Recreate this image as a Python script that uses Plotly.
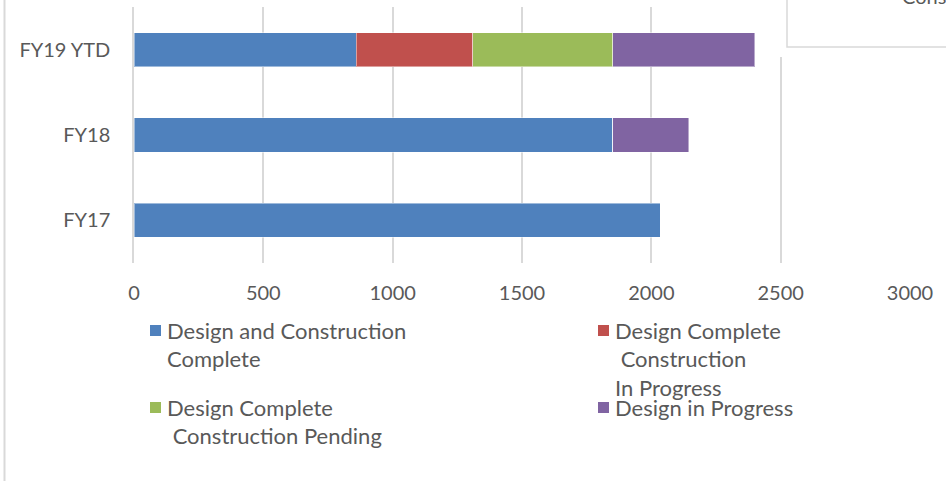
import plotly.graph_objects as go

# ---- data ----
categories = ["FY17", "FY18", "FY19 YTD"]
series_names = [
    "Design and Construction Complete",
    "Design Complete Construction In Progress",
    "Design Complete Construction Pending",
    "Design in Progress",
]
design_construction_complete = [2035, 1850, 860]
design_complete_construction_in_progress = [0, 0, 450]
design_complete_construction_pending = [0, 0, 540]
design_in_progress = [0, 295, 550]
x_ticks = [0, 500, 1000, 1500, 2000, 2500, 3000]
legend_lines = [
    ["Design and Construction", "Complete"],
    ["Design Complete", " Construction", "In Progress"],
    ["Design Complete", " Construction Pending"],
    ["Design in Progress"],
]
partial_box_text = "Construction"

colors = ["#4F81BD", "#C0504D", "#9BBB59", "#8064A2"]
values = [
    design_construction_complete,
    design_complete_construction_in_progress,
    design_complete_construction_pending,
    design_in_progress,
]

FONT = "Lato, 'Open Sans', sans-serif"
TXT = "#595959"

fig = go.Figure()
for name, vals, col in zip(series_names, values, colors):
    fig.add_trace(go.Bar(
        y=categories, x=vals, name=name, orientation="h",
        marker=dict(color=col, line=dict(color="rgba(255,255,255,0.45)", width=1)),
        showlegend=False,
    ))

W, H = 946, 481
L, R, T, B = 134, 36, 7, 218
pw, ph = W - L - R, H - T - B

def px(x):
    return (x - L) / pw

def py(y):
    return (H - B - y) / ph

shapes = []
annotations = []

# custom legend (two columns)
legend_pos = [(150, 330), (598, 330), (150, 407), (598, 407)]
line_h = 28.7
for i, (sx, sy) in enumerate(legend_pos):
    shapes.append(dict(type="rect", xref="paper", yref="paper",
                       x0=px(sx), x1=px(sx + 11), y0=py(sy - 5), y1=py(sy + 6),
                       fillcolor=colors[i], line=dict(width=0), layer="above"))
    for j, ln in enumerate(legend_lines[i]):
        txt = ("&nbsp;" + ln[1:]) if ln.startswith(" ") else ln
        annotations.append(dict(text=txt, xref="paper", yref="paper",
                                x=px(sx + 15), y=py(sy + j * line_h),
                                xanchor="left", yanchor="middle", showarrow=False,
                                font=dict(family=FONT, size=22, color=TXT)))

# white cover of gridlines under the partial box
shapes.append(dict(type="rect", xref="paper", yref="paper",
                   x0=px(765), x1=px(960), y0=py(57), y1=py(-5),
                   fillcolor="white", line=dict(width=0), layer="above"))
# partial legend box of neighbouring chart
shapes.append(dict(type="rect", xref="paper", yref="paper",
                   x0=px(787), x1=px(960), y0=py(47), y1=py(-5),
                   fillcolor="white", line=dict(color="#d9d9d9", width=1.5), layer="above"))
annotations.append(dict(text=partial_box_text, xref="paper", yref="paper",
                        x=px(900), y=py(-4), xanchor="left", yanchor="middle",
                        showarrow=False, font=dict(family=FONT, size=20, color=TXT)))
# left border line
shapes.append(dict(type="line", xref="paper", yref="paper",
                   x0=px(4.5), x1=px(4.5), y0=py(490), y1=py(-5),
                   line=dict(color="#d9d9d9", width=2)))

fig.update_layout(
    barmode="stack",
    bargap=0.6,
    width=W, height=H,
    margin=dict(l=L, r=R, t=T, b=B, autoexpand=False),
    paper_bgcolor="white", plot_bgcolor="white",
    font=dict(family=FONT, size=20, color=TXT),
    shapes=shapes,
    annotations=annotations,
    xaxis=dict(range=[0, 3000], tickvals=x_ticks, showgrid=True,
               gridcolor="#d9d9d9", gridwidth=1.5, zeroline=False,
               ticks="", ticklabelstandoff=16,
               tickfont=dict(family=FONT, size=20, color=TXT), fixedrange=True),
    yaxis=dict(categoryorder="array", categoryarray=categories,
               showline=True, linecolor="#d9d9d9", linewidth=1.5,
               ticks="", ticklabelstandoff=18, showgrid=False,
               tickfont=dict(family=FONT, size=20, color=TXT), fixedrange=True),
)

fig.write_html("out.html", config={"displayModeBar": False},
               post_script="document.body.style.margin='0';document.body.style.overflow='hidden';")
